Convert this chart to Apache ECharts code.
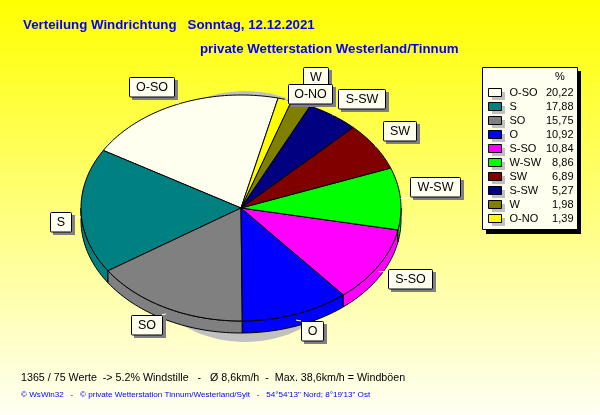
<!DOCTYPE html>
<html><head><meta charset="utf-8">
<style>html,body{margin:0;padding:0;background:#fff}#c{width:600px;height:415px}</style>
<script src="https://cdn.jsdelivr.net/npm/echarts@6/dist/echarts.min.js"></script>
</head><body><div id="c"></div>
<script>
const categories = ['O-SO','S','SO','O','S-SO','W-SW','SW','S-SW','W','O-NO'];
const shareValues = [20.22,17.88,15.75,10.92,10.84,8.86,6.89,5.27,1.98,1.39];
const sliceColors = ['#fffff0','#008080','#808080','#0000ff','#ff00ff','#00ff00','#800000','#000080','#808000','#ffff00'];
const labelBoxLeft = [129,50,131,301,388,410,383,338,303,288];
const labelBoxTop = [77,212,315,321,269,177,121,89,67,84];
const labelBoxWidth = [45,21,31,22,44,50,33,47,25,44];

const cx=241, cy=208, rx=160, ry=113, depth=12, startDeg=13.4;
const total = shareValues.reduce((a,b)=>a+b,0);
const font='"Liberation Sans",Arial,sans-serif';

function rim(deg,dy){const r=deg*Math.PI/180;return [cx+rx*Math.sin(r),cy-ry*Math.cos(r)+(dy||0)];}
function arc(a,b,dy){const n=Math.max(2,Math.ceil(Math.abs(b-a)/1.5));const p=[];for(let i=0;i<=n;i++)p.push(rim(a+(b-a)*i/n,dy));return p;}

let acc=0;
const sliceSeries = categories.map((name,i)=>{
  const from=acc; acc+=shareValues[i];
  return {
    name, type:'custom', coordinateSystem:'none', silent:true,
    itemStyle:{color:sliceColors[i],borderColor:'#000',borderWidth:1},
    data:[[from,shareValues[i]]],
    renderItem(params,api){
      const a0=startDeg-api.value(0)/total*360;
      const a1=a0-api.value(1)/total*360;
      const style={fill:sliceColors[i],stroke:'#000',lineWidth:1,lineJoin:'round'};
      const children=[];
      const lo=Math.max(a1,-270), hi=Math.min(a0,-90);
      if(hi>lo){
        const top=arc(hi,lo,0), bot=arc(lo,hi,depth);
        children.push({type:'polygon',z2:1,shape:{points:top.concat(bot)},style});
      }
      children.push({type:'polygon',z2:2,shape:{points:[[cx,cy]].concat(arc(a0,a1,0))},style});
      const mid=(a0+a1)/2, anchor=rim(mid,mid<-90&&mid>-270?depth/2:0);
      const bx=labelBoxLeft[i], by=labelBoxTop[i], bw=labelBoxWidth[i], bh=20;
      const tx=Math.max(bx,Math.min(bx+bw,anchor[0])), ty=Math.max(by,Math.min(by+bh,anchor[1]));
      const zl=10+i*3;
      children.push({type:'line',z2:zl,shape:{x1:anchor[0],y1:anchor[1],x2:tx,y2:ty},style:{stroke:'#fff',lineWidth:1}});
      children.push({type:'rect',z2:zl,shape:{x:bx+3,y:by+3,width:bw+1,height:bh},style:{fill:'#808080'}});
      children.push({type:'rect',z2:zl+1,shape:{x:bx+.5,y:by+.5,width:bw,height:bh-.5,r:1},style:{fill:'#fffff0',stroke:'#000',lineWidth:1}});
      children.push({type:'text',z2:zl+2,style:{x:bx+bw/2+.5,y:by+10.5,text:name,fill:'#000',font:'12.5px '+font,align:'center',verticalAlign:'middle'}});
      return {type:'group',children};
    }
  };
});

const shadowSeries = {
  name:'Schatten', type:'custom', coordinateSystem:'none', silent:true, z:1,
  data:[[total]],
  renderItem(){return {type:'ellipse',shape:{cx:cx+4,cy:216.5,rx:125,ry:125.5},style:{fill:'#c0c0c0'}};}
};

const legendTop=67, legendLeft=482, legendRowFirst=88, legendRowStep=14;
const legendBackdrop=[
  {type:'rect',z:3,shape:{x:legendLeft+4,y:legendTop+4,width:95,height:163},style:{fill:'#000'}},
  {type:'rect',z:3,shape:{x:legendLeft+.5,y:legendTop+.5,width:95,height:162},style:{fill:'#fffff0',stroke:'#000',lineWidth:1}}
].concat(categories.map((c,i)=>({type:'rect',z:3,shape:{x:492,y:legendRowFirst+i*legendRowStep+4,width:13,height:8},style:{fill:'#c0c0c0'}})));

const chart = echarts.init(document.getElementById('c'),null,{renderer:'canvas'});
const valueOf = Object.fromEntries(categories.map((c,i)=>[c,shareValues[i].toFixed(2).replace('.',',')]));
chart.setOption({
  animation:false,
  backgroundColor:new echarts.graphic.LinearGradient(0,0,0,1,[{offset:0,color:'#ffff00'},{offset:1,color:'#fffff5'}]),
  title:[
    {text:'Verteilung Windrichtung   Sonntag, 12.12.2021',left:23,top:19,padding:0,textStyle:{color:'#0000ff',fontFamily:font,fontSize:13.3,fontWeight:'bold'}},
    {text:'private Wetterstation Westerland/Tinnum',left:200,top:43,padding:0,textStyle:{color:'#0000ff',fontFamily:font,fontSize:13.3,fontWeight:'bold'}},
    {text:'1365 / 75 Werte  -> 5.2% Windstille   -   Ø 8,6km/h  -  Max. 38,6km/h = Windböen',left:21,top:373,padding:0,textStyle:{color:'#000',fontFamily:font,fontSize:10.7,fontWeight:'normal'}},
    {text:'© WsWin32   -   © private Wetterstation Tinnum/Westerland/Sylt   -   54°54\'13" Nord; 8°19\'13" Ost',left:21,top:391,padding:0,textStyle:{color:'#0000ff',fontFamily:font,fontSize:8.1,fontWeight:'normal'}}
  ],
  legend:{
    data:categories, orient:'vertical', left:legendLeft+6, top:legendRowFirst-1, padding:0, z:4,
    itemWidth:13, itemHeight:8, itemGap:3, selectedMode:false, icon:'rect',
    itemStyle:{borderColor:'#000',borderWidth:1},
    formatter:n=>`{n|${n}}{v|${valueOf[n]}}`,
    textStyle:{rich:{n:{width:36,padding:[0,0,0,3],fontFamily:font,fontSize:11,color:'#000'},v:{width:28,align:'right',fontFamily:font,fontSize:11,color:'#000'}}}
  },
  graphic:legendBackdrop.concat([{type:'text',z:4,left:555,top:71,style:{text:'%',fill:'#000',font:'11px '+font}}]),
  series:[shadowSeries].concat(sliceSeries)
});
</script></body></html>
